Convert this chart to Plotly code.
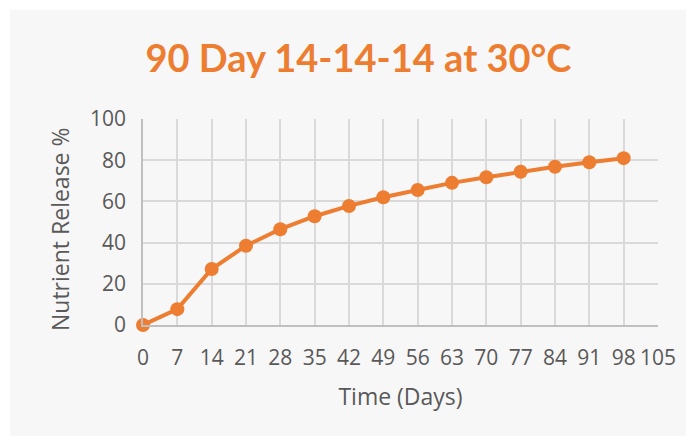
import plotly.graph_objects as go

days = [0, 7, 14, 21, 28, 35, 42, 49, 56, 63, 70, 77, 84, 91, 98]
release = [0, 7.7, 27.2, 38.5, 46.5, 52.8, 57.8, 62.0, 65.5, 69.0, 71.7, 74.4, 76.8, 79.0, 81.0]
x_ticks = list(range(0, 106, 7))
y_ticks = [0, 20, 40, 60, 80, 100]

title_text = "90 Day 14-14-14 at 30°C"
x_title = "Time (Days)"
y_title = "Nutrient Release %"

ORANGE = "#ED7D31"
BG = "#F7F7F7"
GRID = "#D9D9D9"
TXT = "#595959"
TFONT = "Lato, Open Sans, sans-serif"
FONT = "Open Sans, Lato, sans-serif"

# page body has an 8px margin; compensate
OFF = 8
W, H = 694, 436
L, T = 143 - OFF, 119 - OFF
R = W - (658 - OFF)
B = H - (325 - OFF)
pw, ph = W - L - R, H - T - B

fig = go.Figure()
fig.add_trace(go.Scatter(
    x=days, y=release, mode="lines+markers",
    line=dict(color=ORANGE, width=4),
    marker=dict(color=ORANGE, size=14),
    cliponaxis=False, showlegend=False,
))

# gray chart area background (white strip on left/top)
fig.add_shape(type="rect", xref="paper", yref="paper",
              x0=(10 - OFF - L) / pw, x1=(W + 20 - L) / pw,
              y0=(T + ph - H - 20) / ph, y1=(T + ph - (10 - OFF)) / ph,
              fillcolor=BG, line=dict(width=0), layer="below")

# y-axis title
fig.add_annotation(text=y_title, textangle=-90, showarrow=False,
                   xref="paper", yref="paper",
                   x=(60 - OFF - L) / pw, y=(T + ph - (229 - OFF)) / ph,
                   xanchor="center", yanchor="middle",
                   font=dict(family=FONT, size=23, color=TXT))

fig.update_layout(
    width=W, height=H,
    margin=dict(l=L, r=R, t=T, b=B),
    paper_bgcolor="white", plot_bgcolor=BG,
    title=dict(text=f"<b>{title_text}</b>", x=(358.5 - OFF - L) / pw, xref="paper", xanchor="center",
               y=(H - (59 - OFF)) / H, yref="container", yanchor="middle",
               font=dict(family=TFONT, size=38, color=ORANGE)),
    font=dict(family=FONT, color=TXT),
)
fig.update_xaxes(
    range=[0, 105], tickvals=x_ticks, ticktext=[str(v) for v in x_ticks],
    showgrid=True, gridcolor=GRID, gridwidth=1.5,
    showline=True, linecolor="#BFBFBF", linewidth=1.5,
    ticks="", tickfont=dict(size=21, color=TXT), ticklabelstandoff=13,
    zeroline=False, mirror=False,
    title=dict(text=x_title, font=dict(size=23, color=TXT), standoff=19),
)
fig.update_yaxes(
    range=[0, 100], tickvals=y_ticks,
    showgrid=True, gridcolor=GRID, gridwidth=1.5,
    showline=True, linecolor="#BFBFBF", linewidth=1.5,
    ticks="", tickfont=dict(size=21, color=TXT), ticklabelstandoff=11,
    zeroline=False,
)

fig.write_html("out.html")
